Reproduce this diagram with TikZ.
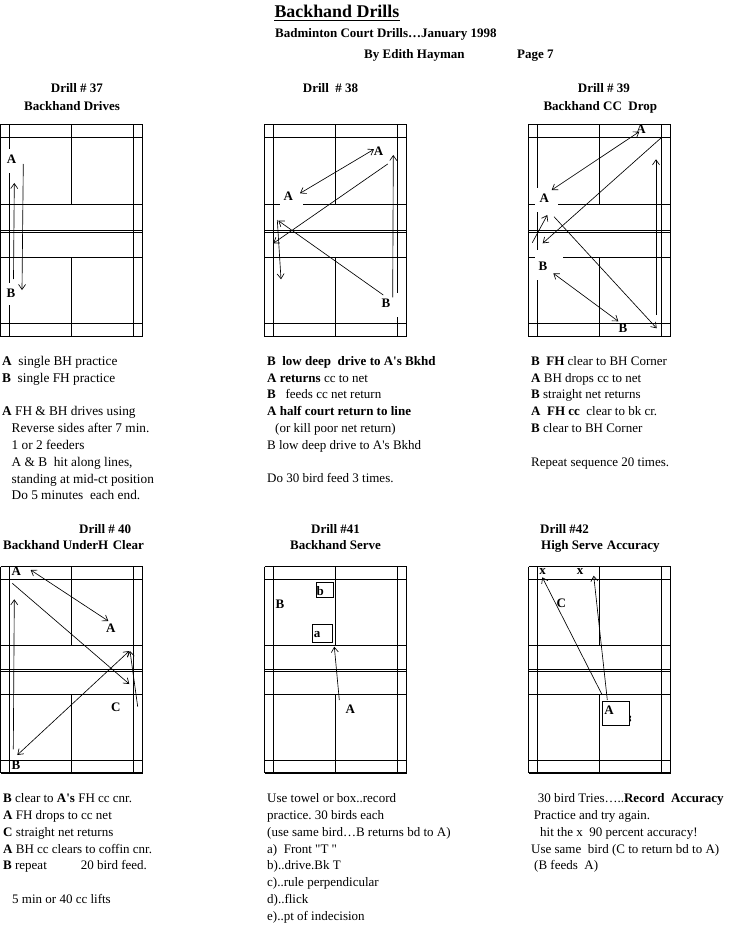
\documentclass[tikz,border=0pt]{standalone}
\usepackage{fontspec}
\setmainfont{Liberation Serif}[Ligatures=TeXOff]
\usetikzlibrary{arrows.meta}
\frenchspacing
\tikzset{
  courtline/.style={line width=0.95pt,black},
  thinshot/.style={line width=0.65pt,black,-{Straight Barb[length=5pt,width=7pt,line width=0.65pt]}},
  dblshot/.style={line width=0.65pt,black,{Straight Barb[length=5pt,width=7pt,line width=0.65pt]}-{Straight Barb[length=5pt,width=7pt,line width=0.65pt]}},
  letter/.style={inner sep=0pt,font=\fontsize{13}{15}\selectfont\bfseries},
  heading/.style={inner sep=0pt,anchor=base west,font=\fontsize{13}{15}\selectfont\bfseries},
  body/.style={inner sep=0pt,anchor=north west,align=left,font=\fontsize{13}{16.8}\selectfont},
  smallbox/.style={line width=0.95pt,draw=black,fill=white}
}
\newcommand{\courtlines}[2]{% x offset, first/second row are selected by #2
  \begin{scope}[shift={(#1,0)}]
  \ifnum#2=1
    \draw[courtline] (0.5,124.5) rectangle (142.5,336);
    \foreach \yy in {137.5,204.5,230,232.5,257.5,323.5} \draw[courtline] (0.5,\yy) -- (142.5,\yy);
    \foreach \xx in {9.5,133.5} \draw[courtline] (\xx,124.5) -- (\xx,336);
    \draw[courtline] (71.5,124.5) -- (71.5,204.5);
    \draw[courtline] (71.5,257.5) -- (71.5,336);
  \else
    \draw[courtline] (0.5,566.5) -- (142.5,566.5);
    \draw[courtline] (0.5,566.5) -- (0.5,773);
    \draw[courtline] (142.5,566.5) -- (142.5,773);
    \draw[line width=1.9pt] (0.5,773) -- (142.5,773);
    \foreach \yy in {579.5,645.5,669,694.5,760.5} \draw[courtline] (0.5,\yy) -- (142.5,\yy);
    \draw[line width=1.6pt] (0.5,671.6) -- (142.5,671.6);
    \foreach \xx in {9.5,133.5} \draw[courtline] (\xx,566.5) -- (\xx,773);
    \draw[courtline] (71.5,566.5) -- (71.5,645.5);
    \draw[courtline] (71.5,694.5) -- (71.5,773);
  \fi
  \end{scope}}
\newcommand{\shot}[4]{% style, name, start, end
  \coordinate (#2s) at #3;
  \coordinate (#2e) at #4;
  \draw[#1] (#2s) -- (#2e);}
\newcommand{\gapfill}[2]{\fill[white] #1 rectangle #2;}
\begin{document}
\begin{tikzpicture}[x=1pt,y=-1pt]
\useasboundingbox (0,0) rectangle (753,925);
\fill[white] (0,0) rectangle (753,925);
% header
\node[inner sep=0pt,anchor=base west,font=\fontsize{17.9}{20}\selectfont\bfseries] (title) at (274.3,17.3) {Backhand Drills};
\draw[line width=1.4pt] ([yshift=-3.4pt]title.base west) -- ([yshift=-3.4pt]title.base east);
\node[heading] (sub) at (275,38) {Badminton Court Drills…January 1998};
\node[heading] (by) at (364,59) {By Edith Hayman};
\node[heading] (page) at (517,59) {Page 7};
% headings
\node[heading] (h37) at (50.7,92.7) {Drill \# 37};
\node[heading] (n37) at (24,110.7) {Backhand Drives};
\node[heading] (h38) at (302.7,92.7) {Drill~~\# 38};
\node[heading] (h39) at (577.7,92.7) {Drill \# 39};
\node[heading] (n39) at (543.3,110.7) {Backhand CC~~Drop};
\node[heading] (h40) at (79,533.3) {Drill \# 40};
\node[heading] (n40) at (3,549.7) {Backhand UnderH\hspace{4.5pt}Clear};
\node[heading] (h41) at (311,533.3) {Drill \#41};
\node[heading] (n41) at (290,549.7) {Backhand Serve};
\node[heading] (h42) at (540,533.3) {Drill \#42};
\node[heading] (n42) at (541,549.7) {High Serve\hspace{4pt}Accuracy};
% courts
\courtlines{0}{1}
\courtlines{264}{1}
\courtlines{528}{1}
\courtlines{0}{2}
\courtlines{264}{2}
\courtlines{528}{2}
% gaps behind the letters
\gapfill{(3,149)}{(16,173)}
\gapfill{(3,283)}{(16,305)}
\gapfill{(280,190)}{(302.7,208)}
\gapfill{(376,293)}{(400,317)}
\gapfill{(535,188)}{(557.5,212)}
\gapfill{(535,250)}{(562.7,280)}
% drill 37
\node[letter] (a37) at (11.5,159) {A};
\node[letter] (b37) at (11,293.7) {B};
\shot{thinshot}{p}{(13.5,279)}{(14.3,183)}
\shot{thinshot}{q}{(23.3,164)}{(22,290)}
% drill 38
\node[letter] (a38) at (288.3,196) {A};
\node[letter] (c38) at (378.5,151) {A};
\node[letter] (b38) at (386,303.3) {B};
\shot{dblshot}{ra}{(300,193.3)}{(374,149.3)}
\shot{thinshot}{rb}{(387.7,164)}{(273.3,243.3)}
\shot{thinshot}{rc}{(383.3,295)}{(278.3,220.7)}
\shot{thinshot}{rd}{(277.3,220)}{(281,279.3)}
\shot{thinshot}{re}{(392.7,297.3)}{(393.3,155)}
% drill 39
\node[letter] (a39) at (544.3,198.7) {A};
\node[letter] (c39) at (641,129.3) {A};
\node[letter] (b39) at (543,266.7) {B};
\node[letter] (d39) at (623,328) {B};
\shot{dblshot}{sa}{(551.7,190)}{(639.3,131.7)}
\shot{thinshot}{sb}{(661.3,137.7)}{(542.7,243.3)}
\shot{thinshot}{sc}{(656,315)}{(656,159.3)}
\shot{thinshot}{sd}{(532.3,242.7)}{(547.3,215)}
\shot{thinshot}{se}{(554,216.7)}{(656.7,328.3)}
\shot{dblshot}{sf}{(553.3,273.3)}{(618.3,321.3)}
% drill 40
\node[letter] (a40) at (16.3,571) {A};
\node[letter] (c40) at (110.7,628.7) {A};
\node[letter] (e40) at (115.7,707.7) {C};
\node[letter] (b40) at (16,765) {B};
\shot{dblshot}{ta}{(30.7,570)}{(108.3,621)}
\shot{thinshot}{tb}{(12.3,583.3)}{(129.3,684)}
\shot{thinshot}{tc}{(13.3,749.3)}{(14.3,599.3)}
\shot{dblshot}{td}{(129.3,651)}{(17.3,755)}
\shot{thinshot}{te}{(137.7,706.7)}{(130,651)}
% drill 41
\node[smallbox,anchor=north west,minimum width=17.6pt,minimum height=15pt,inner sep=0pt] (bx41) at (315.7,582.3) {};
\node[smallbox,anchor=north west,minimum width=20pt,minimum height=17.4pt,inner sep=0pt] (ax41) at (312.3,624.3) {};
\node[letter] (lb41) at (320.3,591) {b};
\node[letter] (la41) at (317,634.7) {a};
\node[letter] (b41) at (280,604) {B};
\node[letter] (a41) at (350.3,709) {A};
\shot{thinshot}{ua}{(339.3,700)}{(334.3,646.7)}
% drill 42
\node[letter] (x42) at (542.7,571.5) {x};
\node[letter] (y42) at (580,571.5) {x};
\node[letter] (c42) at (561.3,603.7) {C};
\shot{thinshot}{va}{(601.7,694)}{(542.3,577.3)}
\shot{thinshot}{vb}{(607.3,700)}{(593.7,575.7)}
\draw[line width=1.2pt] (629,715.5) -- (630.4,716.5) -- (629.6,718.5) -- (630.4,720.5) -- (629,721.5);
\node[smallbox,anchor=north west,minimum width=26.4pt,minimum height=24pt,inner sep=0pt] (box42) at (602.3,701.3) {};
\node[letter] (a42) at (609,710) {A};
% body texts
\node[body,font=\fontsize{13.3}{16.8}\selectfont] (t37) at (2,356) {\textbf{A}~~single BH practice\\
\textbf{B}~~single FH practice\\
~\\
\textbf{A} FH \& BH drives using\\
\hspace*{9.5pt}Reverse sides after 7 min.\\
\hspace*{9.5pt}1 or 2 feeders\\
\hspace*{9.5pt}A \& B~~hit along lines,\\
\hspace*{9.5pt}standing at mid-ct position\\
\hspace*{9.5pt}Do 5 minutes~~each end.};
\node[body] (t38) at (267,356) {\textbf{B~~low deep~~drive to A's Bkhd}\\
\textbf{A returns} cc to net\\
\textbf{B}~~~feeds cc net return\\
\textbf{A half court return to line}\\
\hspace*{8pt}(or kill poor net return)\\
B low deep drive to A's Bkhd\\
~\\
Do 30 bird feed 3 times.};
\node[body] (t39) at (531,356) {\textbf{B~~FH} clear to BH Corner\\
\textbf{A} BH drops cc to net\\
\textbf{B} straight net returns\\
\textbf{A~~FH cc}~~clear to bk cr.\\
\textbf{B} clear to BH Corner\\
~\\
Repeat sequence 20 times.};
\node[body] (t40) at (3,793.5) {\textbf{B} clear to \textbf{A's} FH cc cnr.\\
\textbf{A} FH drops to cc net\\
\textbf{C} straight net returns\\
\textbf{A} BH cc clears to coffin cnr.\\
\textbf{B} repeat\hspace{34pt}20 bird feed.\\
~\\
\hspace*{9pt}5 min or 40 cc lifts};
\node[body] (t41) at (267,793.5) {Use towel or box..record\\
practice. 30 birds each\\
(use same bird…B returns bd to A)\\
a)~~Front "T "\\
b)..drive.Bk T\\
c)..rule perpendicular\\
d)..flick\\
e)..pt of indecision};
\node[body] (t42) at (531,793.5) {\hspace*{6.7pt}30 bird Tries…..\textbf{Record~~Accuracy}\\
\hspace*{2.7pt}Practice and try again.\\
\hspace*{9pt}hit the x~~90 percent accuracy!\\
Use same~~bird (C to return bd to A)\\
\hspace*{3pt}(B feeds~~A)};
\end{tikzpicture}
\end{document}
